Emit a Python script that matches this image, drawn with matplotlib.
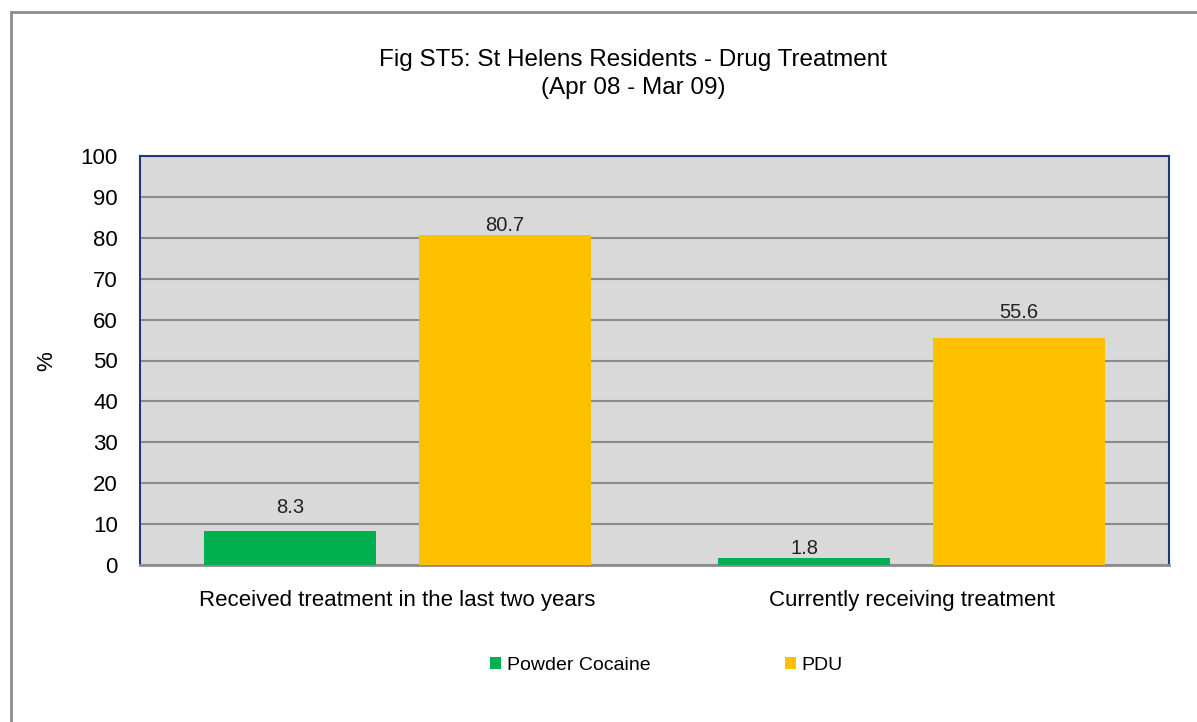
import matplotlib.pyplot as plt
import numpy as np
from matplotlib.patches import Rectangle

categories = ['Received treatment in the last two years', 'Currently receiving treatment']
series = ['Powder Cocaine', 'PDU']
cocaine = [8.3, 1.8]
pdu = [80.7, 55.6]
colors = ['#00B050', '#FFC000']
# label gap above bar top, in points (as placed in the original)
cocaine_gap = [10, 0]
pdu_gap = [0, 11.5]

plt.rcParams['font.family'] = ['Liberation Sans', 'DejaVu Sans']

fig = plt.figure(figsize=(11.97, 7.22), dpi=100)
# outer chart border
fig.patches.append(Rectangle((11 / 1197, -0.1), 1.2, (722 - 12) / 722 + 0.1,
                             transform=fig.transFigure, fill=False,
                             edgecolor='#8C8C8C', linewidth=2))

ax = fig.add_axes([140 / 1197, (722 - 565) / 722, 1029 / 1197, 409 / 722])
ax.set_facecolor('#D9D9D9')

x = np.arange(len(categories))
w = 0.334
bars1 = ax.bar(x - 0.209, cocaine, w, color=colors[0], label=series[0], zorder=3)
bars2 = ax.bar(x + 0.209, pdu, w, color=colors[1], label=series[1], zorder=3)

for bars, vals, gaps in [(bars1, cocaine, cocaine_gap), (bars2, pdu, pdu_gap)]:
    for b, v, g in zip(bars, vals, gaps):
        ax.annotate(f'{v:.1f}', (b.get_x() + b.get_width() / 2, v),
                    xytext=(0, g), textcoords='offset points',
                    ha='center', va='bottom', fontsize=14.5, color='#222222', zorder=4)

ax.set_xlim(-0.5, 1.5)
ax.set_ylim(0, 100)
ax.set_yticks(range(0, 101, 10))
ax.yaxis.grid(True, color='#8C8C8C', linewidth=1.5, zorder=1)
ax.set_xticks(x)
ax.set_xticklabels(categories, fontsize=16)
ax.tick_params(axis='y', labelsize=16, length=0, pad=16)
ax.tick_params(axis='x', length=0, pad=18)

for side in ['left', 'top', 'right']:
    ax.spines[side].set_color('#1F3A7A')
    ax.spines[side].set_linewidth(1.5)
ax.spines['bottom'].set_color('#8C8C8C')
ax.spines['bottom'].set_linewidth(2)

fig.text(47 / 1197, 1 - 361 / 722, '%', rotation=90, ha='center', va='center', fontsize=16)

fig.text(633 / 1197, 1 - 60 / 722, 'Fig ST5: St Helens Residents - Drug Treatment',
         ha='center', va='center', fontsize=17.5)
fig.text(633 / 1197, 1 - 88 / 722, '(Apr 08 - Mar 09)',
         ha='center', va='center', fontsize=17.5)

fig.legend(handles=[bars1, bars2], labels=series, loc='center left',
           bbox_to_anchor=(490 / 1197, 1 - 665 / 722), ncol=2, frameon=False,
           fontsize=14, handlelength=0.57, handleheight=0.57, columnspacing=6.9,
           handletextpad=0.3, borderpad=0, borderaxespad=0)

fig.savefig('out.png', dpi=100)
